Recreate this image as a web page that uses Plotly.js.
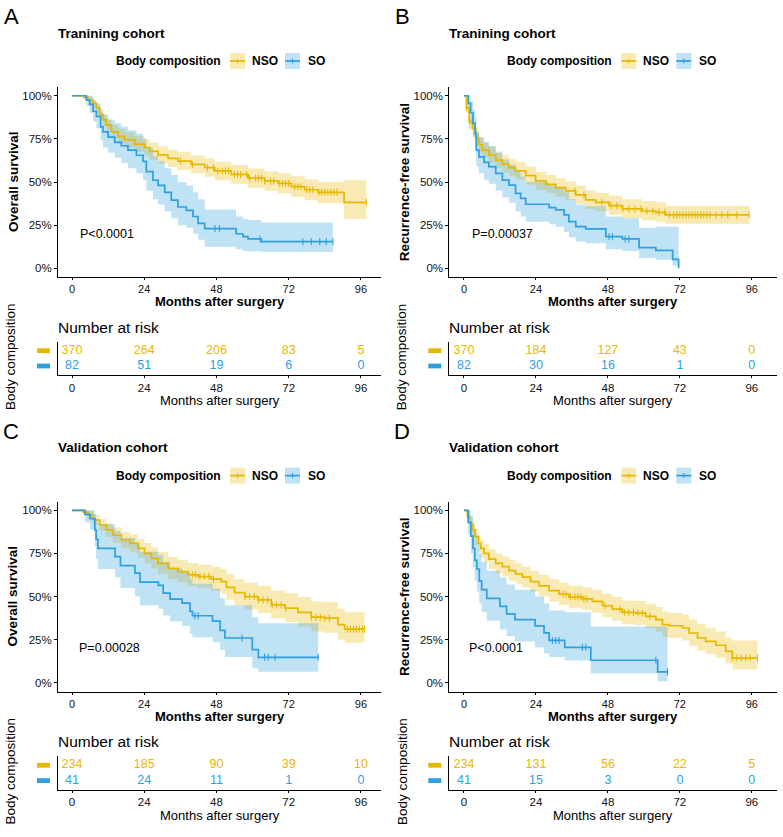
<!DOCTYPE html>
<html><head><meta charset="utf-8">
<script src="https://cdn.plot.ly/plotly-3.0.1.min.js"></script>
<style>html,body{margin:0;padding:0;background:#fff}#chart{width:783px;height:837px}</style>
</head><body><div id="chart"></div>
<script>
// ---------------- DATA ----------------
const riskTimes = [0, 24, 48, 72, 96];
const groups = ['NSO', 'SO'];

// Panel A: Training cohort, overall survival
const A_nso_time  = [0,4,5.3,7,8.1,9.2,10.3,11.4,13.1,15.3,17.5,20.8,24.1,25.8,28.6,31.9,35.2,39.6,44.1,47.4,52.9,58.5,64,68.4,72.9,77.3,81.7,90.4,97.8];
const A_nso_surv  = [1,0.99,0.975,0.955,0.93,0.89,0.86,0.83,0.79,0.765,0.745,0.72,0.70,0.678,0.657,0.637,0.621,0.602,0.583,0.564,0.544,0.522,0.506,0.492,0.473,0.455,0.44,0.382,0.382];
const A_nso_lower = [1,0.975,0.955,0.93,0.9,0.86,0.825,0.79,0.75,0.722,0.70,0.674,0.652,0.628,0.607,0.587,0.57,0.55,0.53,0.51,0.49,0.466,0.449,0.434,0.413,0.394,0.378,0.285,0.285];
const A_nso_upper = [1,1,0.992,0.978,0.958,0.922,0.895,0.868,0.83,0.808,0.79,0.766,0.748,0.728,0.707,0.687,0.672,0.654,0.636,0.618,0.598,0.578,0.563,0.55,0.533,0.516,0.502,0.51,0.51];
const A_nso_cens  = [36,40,45,47,48.5,50,51,52,54,55,56,58,59,61,62,63,64,66,67,69,70,71,72,74,75,76,78,79,80,82,83,84,85,86,87,88,97.8];
const A_so_time   = [0,4.8,5.9,7,8.1,9.5,10.3,12,14.2,16.4,18.6,21.4,23.6,24.7,26.9,28.6,30.8,33,35.2,38,40.2,41.9,44.1,54.5,56.8,58.5,62.9,86.7];
const A_so_surv   = [1,0.975,0.95,0.91,0.88,0.82,0.79,0.76,0.73,0.71,0.685,0.655,0.62,0.56,0.51,0.48,0.44,0.395,0.355,0.335,0.30,0.26,0.23,0.20,0.183,0.17,0.154,0.154];
const A_so_lower  = [1,0.94,0.9,0.85,0.81,0.74,0.70,0.67,0.64,0.61,0.58,0.55,0.51,0.45,0.40,0.37,0.33,0.29,0.25,0.235,0.20,0.165,0.125,0.11,0.10,0.098,0.094,0.094];
const A_so_upper  = [1,1,1,0.97,0.95,0.91,0.89,0.86,0.84,0.82,0.80,0.78,0.75,0.70,0.65,0.62,0.58,0.54,0.50,0.48,0.44,0.40,0.34,0.30,0.285,0.28,0.266,0.266];
const A_so_cens   = [47.5,49,62.5,76.7,79.5,82.3,84.5,86.7];
const A_risk_nso  = [370, 264, 206, 83, 5];
const A_risk_so   = [82, 51, 19, 6, 0];

// Panel B: Training cohort, recurrence-free survival
const B_nso_time  = [0,0.8,1.7,2.8,3.9,5,6.1,8.3,10.6,12.8,15,17.2,20.6,23.9,27.3,30.6,33.9,37.3,40.6,43.9,48.4,52.8,59.5,64,67.3,95.1];
const B_nso_surv  = [1,0.93,0.85,0.81,0.755,0.715,0.685,0.655,0.627,0.604,0.583,0.564,0.537,0.506,0.486,0.467,0.448,0.425,0.396,0.382,0.363,0.344,0.332,0.324,0.309,0.309];
const B_nso_lower = [1,0.90,0.81,0.77,0.71,0.67,0.64,0.61,0.58,0.555,0.533,0.514,0.486,0.455,0.435,0.415,0.396,0.373,0.344,0.33,0.31,0.29,0.278,0.27,0.258,0.258];
const B_nso_upper = [1,0.96,0.89,0.85,0.80,0.76,0.73,0.705,0.677,0.655,0.635,0.617,0.59,0.56,0.54,0.522,0.503,0.48,0.452,0.438,0.42,0.40,0.39,0.382,0.362,0.362];
const B_nso_cens  = [0.8,1.9,4.8,37,40,46,49,51,53,55,57,59,61,63,65,67,68.5,70,71,72,73,74,75,76,77,78,79,80,81,82,84,86,88,91,95.1];
const B_so_time   = [0,1.4,2.2,3,3.7,4.1,5,6.7,8.3,10.6,12.8,15,17.2,18.9,20.6,28.4,30.6,33.4,35,37.3,40.6,47.3,52.8,58.4,64,69.6,71.6];
const B_so_surv   = [1,0.956,0.90,0.84,0.78,0.685,0.646,0.614,0.589,0.55,0.511,0.482,0.434,0.405,0.371,0.351,0.338,0.309,0.27,0.241,0.228,0.183,0.17,0.12,0.104,0.052,0];
const B_so_lower  = [1,0.91,0.84,0.76,0.70,0.59,0.55,0.51,0.49,0.45,0.41,0.38,0.33,0.30,0.27,0.255,0.24,0.21,0.18,0.155,0.145,0.11,0.10,0.06,0.05,0.015,0];
const B_so_upper  = [1,1,0.97,0.92,0.88,0.79,0.76,0.73,0.71,0.67,0.63,0.60,0.56,0.53,0.50,0.48,0.47,0.44,0.40,0.37,0.36,0.30,0.29,0.235,0.24,0.24,0.24];
const B_so_cens   = [48.4,49.5,53.8,55];
const B_risk_nso  = [370, 184, 127, 43, 0];
const B_risk_so   = [82, 30, 16, 1, 0];

// Panel C: Validation cohort, overall survival
const C_nso_time  = [0,3.7,5.3,7,9.2,11.4,13.6,16.4,19.2,21.9,24.1,26.4,28.6,31.9,35.2,38.5,41.9,46.3,49.6,51.3,54,57.4,61.8,66.2,70.7,75.1,79.5,83.9,88.4,90.6,97.2];
const C_nso_surv  = [1,0.99,0.973,0.944,0.915,0.886,0.857,0.828,0.809,0.78,0.751,0.722,0.693,0.664,0.645,0.626,0.616,0.601,0.587,0.554,0.523,0.50,0.481,0.452,0.433,0.408,0.381,0.375,0.337,0.311,0.311];
const C_nso_lower = [1,0.975,0.95,0.915,0.88,0.845,0.81,0.78,0.757,0.725,0.694,0.663,0.633,0.602,0.582,0.561,0.55,0.533,0.517,0.482,0.45,0.425,0.405,0.374,0.353,0.326,0.298,0.29,0.25,0.232,0.232];
const C_nso_upper = [1,1,0.995,0.975,0.95,0.925,0.90,0.875,0.86,0.835,0.81,0.785,0.757,0.73,0.712,0.695,0.686,0.672,0.66,0.63,0.60,0.58,0.563,0.536,0.52,0.497,0.472,0.468,0.43,0.41,0.41];
const C_nso_cens  = [40,41,42.5,44,45.5,47,57.5,59,60.5,62,63.5,65,66.5,68,69.5,71,79.5,81,82.5,84,85.5,91.5,92.5,93.5,94.5,95.5,96.5,97.2];
const C_so_time   = [0,4.3,6,7.6,8,8.6,14.3,16.1,20.9,22.6,28.7,30.3,32.6,36.6,39.2,40,46.7,49.2,50.8,59.9,61.9,81.8];
const C_so_surv   = [1,0.976,0.952,0.886,0.832,0.78,0.732,0.68,0.636,0.584,0.565,0.52,0.485,0.462,0.414,0.389,0.358,0.304,0.26,0.193,0.148,0.148];
const C_so_lower  = [1,0.93,0.89,0.79,0.72,0.66,0.61,0.55,0.50,0.45,0.43,0.39,0.355,0.33,0.285,0.265,0.235,0.19,0.15,0.085,0.065,0.065];
const C_so_upper  = [1,1,1,0.98,0.95,0.92,0.88,0.84,0.81,0.76,0.74,0.70,0.665,0.645,0.60,0.575,0.545,0.49,0.45,0.38,0.345,0.345];
const C_so_cens   = [40.8,41.9,56.5,64,65.2,67.5,81.8];
const C_risk_nso  = [234, 185, 90, 39, 10];
const C_risk_so   = [41, 24, 11, 1, 0];

// Panel D: Validation cohort, recurrence-free survival
const D_nso_time  = [0,1.1,1.9,2.8,3.7,4.8,5.6,6.7,8.3,10.6,12.8,15,17.2,19.5,22.2,25,28.4,31.7,35,39.5,42.8,46.2,49.5,52.8,57.3,60.6,64,66.2,68.4,72.9,75.1,77.9,80.6,84,87.3,89.5,97.9];
const D_nso_surv  = [1,0.963,0.925,0.886,0.848,0.809,0.78,0.751,0.717,0.693,0.674,0.651,0.632,0.613,0.587,0.562,0.535,0.514,0.497,0.487,0.472,0.447,0.427,0.408,0.404,0.385,0.366,0.337,0.331,0.318,0.289,0.26,0.241,0.218,0.183,0.144,0.144];
const D_nso_lower = [1,0.94,0.89,0.845,0.80,0.76,0.728,0.697,0.66,0.636,0.616,0.592,0.572,0.553,0.526,0.50,0.472,0.451,0.433,0.422,0.406,0.38,0.36,0.34,0.336,0.316,0.296,0.266,0.26,0.245,0.215,0.186,0.167,0.145,0.112,0.078,0.078];
const D_nso_upper = [1,0.988,0.96,0.925,0.893,0.857,0.83,0.805,0.775,0.75,0.733,0.712,0.693,0.675,0.65,0.626,0.60,0.58,0.563,0.554,0.54,0.516,0.497,0.478,0.475,0.458,0.44,0.412,0.405,0.395,0.367,0.34,0.32,0.298,0.262,0.245,0.245];
const D_nso_cens  = [33,34,35.5,37,38,39,40,41,47,52,53.5,55,56.5,58,59.5,62,89.5,91,92.5,94,95.5,97.9];
const D_so_time   = [0,1.4,2.3,3.0,3.6,4.3,5.1,5.9,7.6,12,14.2,17,23.7,26.7,28.4,33.6,42.3,64.6,67.9];
const D_so_surv   = [1,0.93,0.85,0.78,0.71,0.66,0.59,0.54,0.49,0.443,0.40,0.366,0.33,0.29,0.246,0.206,0.131,0.064,0.064];
const D_so_lower  = [1,0.86,0.75,0.67,0.59,0.53,0.46,0.41,0.36,0.31,0.27,0.24,0.205,0.17,0.15,0.13,0.055,0.01,0.01];
const D_so_upper  = [1,1,0.97,0.92,0.86,0.81,0.75,0.70,0.65,0.61,0.57,0.54,0.50,0.46,0.42,0.41,0.327,0.327,0.327];
const D_so_cens   = [29.5,30.6,31.7,39.5,40.6,64,67.9];
const D_risk_nso  = [234, 131, 56, 22, 5];
const D_risk_so   = [41, 15, 3, 0, 0];

const titles  = ['Tranining cohort', 'Tranining cohort', 'Validation cohort', 'Validation cohort'];
const yTitles = ['Overall survival', 'Recurrence-free survival', 'Overall survival', 'Recurrence-free survival'];
const pvals   = ['P<0.0001', 'P=0.00037', 'P=0.00028', 'P<0.0001'];
const letters = ['A', 'B', 'C', 'D'];

// ---------------- STYLE / LAYOUT ----------------
const W = 783, H = 837;
const fx = p => p / W, fy = p => 1 - p / H;
const FONT = 'Liberation Sans, Arial, Helvetica, sans-serif';
const COL = {NSO: '#E7B800', SO: '#2E9FDF'};
const FILL = {NSO: 'rgba(231,184,0,0.30)', SO: 'rgba(46,159,223,0.30)'};

const panelData = [
  {NSO: {t: A_nso_time, s: A_nso_surv, lo: A_nso_lower, up: A_nso_upper, c: A_nso_cens, r: A_risk_nso},
   SO:  {t: A_so_time,  s: A_so_surv,  lo: A_so_lower,  up: A_so_upper,  c: A_so_cens,  r: A_risk_so}},
  {NSO: {t: B_nso_time, s: B_nso_surv, lo: B_nso_lower, up: B_nso_upper, c: B_nso_cens, r: B_risk_nso},
   SO:  {t: B_so_time,  s: B_so_surv,  lo: B_so_lower,  up: B_so_upper,  c: B_so_cens,  r: B_risk_so}},
  {NSO: {t: C_nso_time, s: C_nso_surv, lo: C_nso_lower, up: C_nso_upper, c: C_nso_cens, r: C_risk_nso},
   SO:  {t: C_so_time,  s: C_so_surv,  lo: C_so_lower,  up: C_so_upper,  c: C_so_cens,  r: C_risk_so}},
  {NSO: {t: D_nso_time, s: D_nso_surv, lo: D_nso_lower, up: D_nso_upper, c: D_nso_cens, r: D_risk_nso},
   SO:  {t: D_so_time,  s: D_so_surv,  lo: D_so_lower,  up: D_so_upper,  c: D_so_cens,  r: D_risk_so}}
];

// pixel geometry per panel
const geo = [
  {dx: 0,     dy: 0,     xpx: [58, 381],     xr: [-4.65, 102.66], pvx: 2.0},
  {dx: 391.3, dy: 0,     xpx: [449.3, 776.7], xr: [-4.9, 104.3],   pvx: 2.0},
  {dx: 0,     dy: 414.6, xpx: [58, 381],     xr: [-4.65, 102.66], pvx: 1.8},
  {dx: 391.3, dy: 414.6, xpx: [449.3, 776.7], xr: [-4.9, 104.3],   pvx: 1.0}
];

function survAt(t, s, x) {
  let v = s[0];
  for (let i = 0; i < t.length; i++) { if (t[i] <= x) v = s[i]; }
  return v;
}

const traces = [];
const layout = {
  width: W, height: H, margin: {l: 0, r: 0, t: 0, b: 0},
  paper_bgcolor: '#fff', plot_bgcolor: '#fff', showlegend: false,
  font: {family: FONT, color: '#000'},
  annotations: [], shapes: []
};

const axLine = {showline: true, linecolor: '#000', linewidth: 1, showgrid: false, zeroline: false,
                ticks: 'outside', ticklen: 2, tickwidth: 1, tickcolor: '#000'};

geo.forEach((g, i) => {
  const m = 2 * i + 1, tb = 2 * i + 2;
  const xm = m === 1 ? 'x' : 'x' + m, ym = m === 1 ? 'y' : 'y' + m;
  const xt = 'x' + tb, yt = 'y' + tb;
  const mainY = [87.1 + g.dy, 276.9 + g.dy];
  const tabY = [341.7 + g.dy, 375 + g.dy];
  const xdom = [fx(g.xpx[0]), fx(g.xpx[1])];
  const cx = (g.xpx[0] + g.xpx[1]) / 2;

  layout['xaxis' + (m === 1 ? '' : m)] = Object.assign({}, axLine, {
    domain: xdom, range: g.xr, anchor: ym, tickvals: riskTimes,
    tickfont: {size: 11, color: '#111', family: FONT}});
  layout['yaxis' + (m === 1 ? '' : m)] = Object.assign({}, axLine, {
    domain: [fy(mainY[1]), fy(mainY[0])], range: [-0.05, 1.05], anchor: xm, ticklen: 3,
    tickvals: [0, 0.25, 0.5, 0.75, 1], ticktext: ['0%', '25%', '50%', '75%', '100%'],
    tickfont: {size: 11.5, color: '#111', family: FONT}});
  layout['xaxis' + tb] = Object.assign({}, axLine, {
    domain: xdom, range: g.xr, anchor: yt, tickvals: riskTimes,
    tickfont: {size: 11.5, color: '#111', family: FONT}});
  layout['yaxis' + tb] = {showline: true, linecolor: '#000', linewidth: 1, showgrid: false, zeroline: false,
    domain: [fy(tabY[1]), fy(tabY[0])], range: [0.41, 2.57], anchor: xt,
    showticklabels: false, ticks: ''};

  const pd = panelData[i];
  // bands
  groups.forEach(gr => {
    const d = pd[gr];
    traces.push({type: 'scatter', mode: 'lines', x: d.t, y: d.lo, xaxis: xm, yaxis: ym,
      line: {width: 0, shape: 'hv', color: FILL[gr]}, hoverinfo: 'skip'});
    traces.push({type: 'scatter', mode: 'lines', x: d.t, y: d.up, xaxis: xm, yaxis: ym,
      line: {width: 0, shape: 'hv', color: FILL[gr]}, fill: 'tonexty', fillcolor: FILL[gr], hoverinfo: 'skip'});
  });
  // curves
  groups.forEach(gr => {
    const d = pd[gr];
    traces.push({type: 'scatter', mode: 'lines', x: d.t, y: d.s, xaxis: xm, yaxis: ym,
      line: {width: 1.7, shape: 'hv', color: COL[gr]}, name: gr});
  });
  // censor marks
  groups.forEach(gr => {
    const d = pd[gr];
    traces.push({type: 'scatter', mode: 'markers', x: d.c, y: d.c.map(c => survAt(d.t, d.s, c)),
      xaxis: xm, yaxis: ym,
      marker: {symbol: 'line-ns-open', size: 5, color: COL[gr], line: {width: 1.1, color: COL[gr]}},
      hoverinfo: 'skip'});
  });
  // risk table numbers
  groups.forEach((gr, k) => {
    const d = pd[gr];
    traces.push({type: 'scatter', mode: 'text', x: riskTimes, y: riskTimes.map(() => k === 0 ? 2 : 1),
      text: d.r.map(String), xaxis: xt, yaxis: yt, cliponaxis: false,
      textfont: {size: 12.5, color: COL[gr], family: FONT}, hoverinfo: 'skip'});
  });

  const A = layout.annotations, S = layout.shapes;
  const ann = (x, y, text, opts) => A.push(Object.assign({xref: 'paper', yref: 'paper', x: fx(x), y: fy(y),
    text: text, showarrow: false, xanchor: 'center', yanchor: 'middle', font: {family: FONT, size: 12, color: '#000'}}, opts || {}));

  ann(11 + g.dx, 16.5 + g.dy, letters[i], {font: {family: FONT, size: 22, color: '#000'}});
  ann(56 + g.dx, 33 + g.dy, '<b>' + titles[i] + '</b>', {xanchor: 'left', font: {family: FONT, size: 13.5, color: '#000'}});
  ann(223 + g.dx, 61 + g.dy, '<b>Body composition</b>', {xanchor: 'right', font: {family: FONT, size: 12, color: '#000'}});
  ann(250 + g.dx, 61 + g.dy, '<b>NSO</b>', {xanchor: 'left', font: {family: FONT, size: 12, color: '#000'}});
  ann(305.5 + g.dx, 61 + g.dy, '<b>SO</b>', {xanchor: 'left', font: {family: FONT, size: 12, color: '#000'}});
  ann(13 + g.dx, (mainY[0] + mainY[1]) / 2, '<b>' + yTitles[i] + '</b>', {textangle: -90, font: {family: FONT, size: 13.5, color: '#000'}});
  ann(cx, 302 + g.dy, '<b>Months after surgery</b>', {font: {family: FONT, size: 13, color: '#000'}});
  ann(56 + g.dx, 327 + g.dy, 'Number at risk', {xanchor: 'left', font: {family: FONT, size: 15.5, color: '#000'}});
  ann(11 + g.dx, 357 + g.dy, 'Body composition', {textangle: -90, font: {family: FONT, size: 13.5, color: '#000'}});
  ann(cx, 400.5 + g.dy, 'Months after surgery', {font: {family: FONT, size: 13, color: '#000'}});
  A.push({xref: xm, yref: ym, x: g.pvx, y: 0.2, text: pvals[i], showarrow: false, xanchor: 'left', yanchor: 'middle',
    font: {family: FONT, size: 12.5, color: '#000'}});

  // legend keys
  [['NSO', 230], ['SO', 285]].forEach(([gr, x0]) => {
    const X0 = x0 + g.dx, X1 = x0 + 15 + g.dx, Y = 61 + g.dy;
    S.push({type: 'rect', xref: 'paper', yref: 'paper', x0: fx(X0), x1: fx(X1), y0: fy(Y + 8), y1: fy(Y - 8),
      fillcolor: FILL[gr], line: {width: 0}});
    S.push({type: 'line', xref: 'paper', yref: 'paper', x0: fx(X0), x1: fx(X1), y0: fy(Y), y1: fy(Y),
      line: {color: COL[gr], width: 1.7}});
    S.push({type: 'line', xref: 'paper', yref: 'paper', x0: fx(X0 + 7.5), x1: fx(X0 + 7.5), y0: fy(Y - 2.5), y1: fy(Y + 2.5),
      line: {color: COL[gr], width: 1.1}});
  });
  // risk table strata keys
  [['NSO', 350.7], ['SO', 366]].forEach(([gr, y]) => {
    S.push({type: 'rect', xref: 'paper', yref: 'paper', x0: fx(37 + g.dx), x1: fx(50 + g.dx),
      y0: fy(y + g.dy + 2.4), y1: fy(y + g.dy - 2.4), fillcolor: COL[gr], line: {width: 0}});
  });
});

Plotly.newPlot('chart', traces, layout, {staticPlot: true, displayModeBar: false});
</script>
</body></html>
